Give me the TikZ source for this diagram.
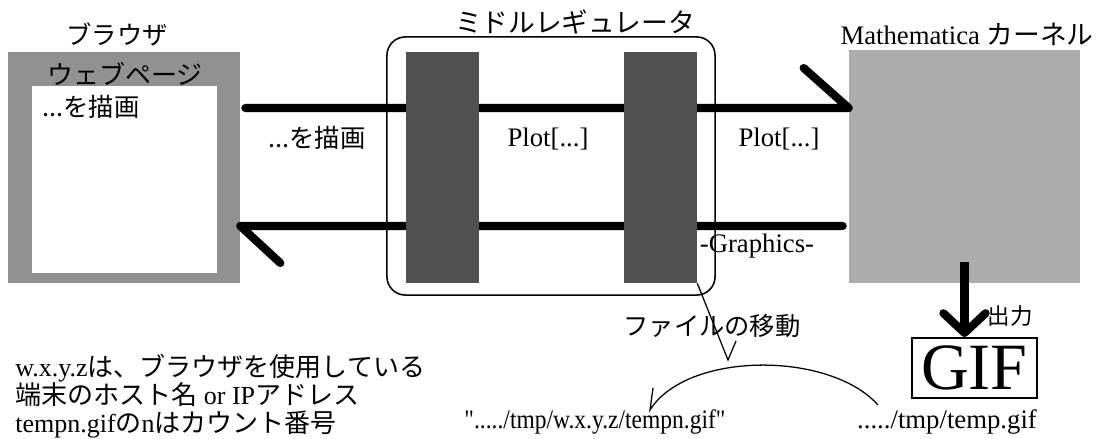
\documentclass[tikz,border=0pt]{standalone}
\usepackage{fontspec}
\setmainfont{Liberation Serif}[Ligatures=TeXOff]
\newfontfamily\narrowserif{Liberation Serif}[FakeStretch=0.88, Ligatures=TeXOff]
\newfontfamily\jp{Noto Sans CJK JP}
\usetikzlibrary{arrows.meta, calc, positioning}
\definecolor{panelgray}{RGB}{145,145,145}
\definecolor{kernelgray}{RGB}{172,172,172}
\definecolor{blockgray}{RGB}{80,80,80}
\newcommand{\setsz}[2]{\fontsize{#1}{#2}\selectfont}
\tikzstyle{panel} = [rectangle, minimum width=5.8cm, minimum height=5.775cm, inner sep=0pt, fill=panelgray]
\tikzstyle{page} = [rectangle, minimum width=4.625cm, minimum height=4.675cm, inner sep=0pt, fill=white]
\tikzstyle{regbox} = [rectangle, rounded corners=13pt, minimum width=8.2cm, minimum height=6.45cm, inner sep=0pt, draw=black, line width=1.1pt]
\tikzstyle{block} = [rectangle, minimum width=1.825cm, minimum height=5.775cm, inner sep=0pt, fill=blockgray]
\tikzstyle{kernelbox} = [rectangle, minimum width=5.775cm, minimum height=5.825cm, inner sep=0pt, fill=kernelgray]
\tikzstyle{gifbox} = [rectangle, minimum width=3.125cm, minimum height=1.5cm, inner sep=0pt, draw=black, line width=1.4pt, font=\setsz{47pt}{47pt}]
\tikzstyle{title} = [inner sep=0pt, font=\jp\setsz{18pt}{20pt}]
\tikzstyle{txt} = [inner sep=0pt, font=\setsz{19pt}{21pt}]
\tikzstyle{pipe} = [line width=5.8pt, line cap=round, line join=round]
\tikzstyle{thinline} = [line width=0.9pt]
\tikzstyle{outarrow} = [line width=5.8pt, -{Straight Barb[length=14pt, width=30pt, line cap=round, line join=round]}]

\begin{document}
\begin{tikzpicture}[x=0.025cm, y=-0.025cm]
	\useasboundingbox (0,0) rectangle (1101,439);
	% boxes
	\node (browser) [panel] at (124,167.5) {};
	\node (webpage) [page] at (124.5,179.5) {};
	\node (kernel) [kernelbox] at (964.5,166.5) {};
	\node (regulator) [regbox] at (551,166) {};
	% titles
	\node (browsertitle) [title] at (117,34) {ブラウザ};
	\node (regtitle) [title, font=\jp\setsz{19pt}{21pt}] at (575,22) {ミドルレギュレータ};
	\node (kerneltitle) [txt] at (967,34) {Mathematica {\jp カーネル}};
	\node (pagetitle) [title, font=\jp\setsz{18.5pt}{20pt}] at (125,74) {ウェブページ};
	\node (pagetext) [title] at (91,107) {...を描画};
	% request and reply
	\coordinate (hiy) at (0,108);
	\coordinate (loy) at (0,226);
	\draw [pipe] ($(browser.east |- hiy)+(5,0)$) -- (kernel.west |- hiy) -- ++(-45,-40);
	\draw [pipe] ($(kernel.west |- loy)+(-6,0)$) -- (browser.east |- loy) -- ++(40,37);
	\node (block1) [block] at (442.5,167.5) {};
	\node (block2) [block] at (660.5,167.5) {};
	\node (drawtext) [title] at (317,138) {...を描画};
	\node (plot1) [txt] at (548,139) {Plot[...]};
	\node (plot2) [txt] at (779,139) {Plot[...]};
	\node (graphics) [txt] at (757,246) {-Graphics-};
	% output
	\node (gif) [gifbox] at (974.5,368) {GIF};
	\draw [outarrow] ([yshift=15pt]kernel.south) -- (kernel.south |- gif.north);
	\node (outtext) [title, font=\jp\setsz{16pt}{18pt}] at (1010,316) {出力};
	% file move
	\node (movetext) [title] at (712,326) {ファイルの移動};
	\coordinate (movetip) at (728,360);
	\draw [thinline] (block2.south east) -- (movetip) -- ++(8,-19);
	\node (tempn) [txt, font=\narrowserif\setsz{19pt}{21pt}] at (595,422) {"...../tmp/w.x.y.z/tempn.gif"};
	\node (temp) [txt] at (947,422) {...../tmp/temp.gif};
	\coordinate (movefrom) at (878,405);
	\coordinate (moveto) at (650,410);
	\draw [thinline] (movefrom) .. controls (830,351) and (687,351) .. (moveto) -- ++(3,-22);
	% note
	\node (note) [anchor=north west, align=left, inner sep=0pt, font=\setsz{18.5pt}{20pt}] at (15,354)
		{w.x.y.z{\jp は、ブラウザを使用している}\\
		{\jp 端末のホスト名} or IP{\jp アドレス}\\
		tempn.gif{\jp の}n{\jp はカウント番号}};
\end{tikzpicture}
\end{document}
